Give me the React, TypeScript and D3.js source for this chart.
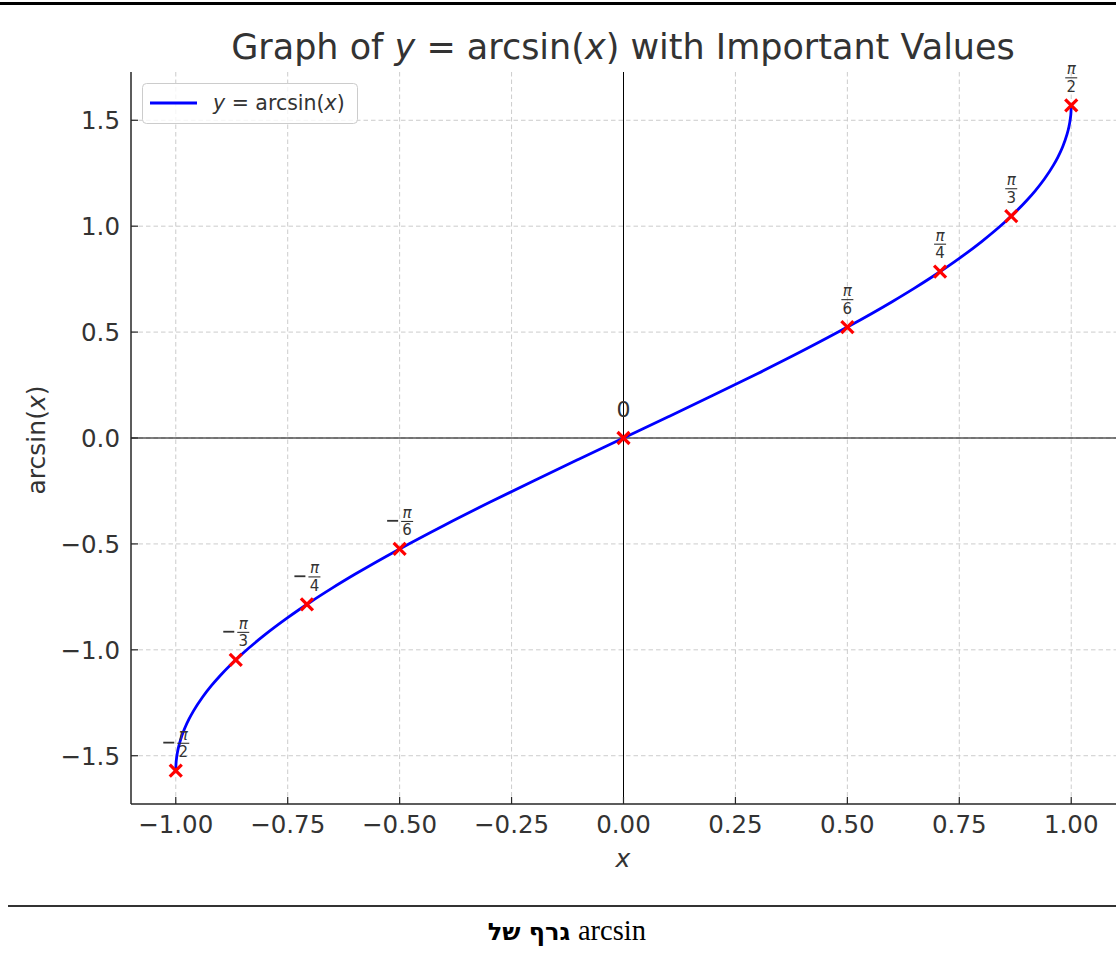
import React from "react";
import * as d3 from "d3";

// Curve samples of y = arcsin(x)
const CURVE_X = [-1, -0.9995, -0.998, -0.995, -0.99, -0.98, -0.97, -0.96, -0.94, -0.92, -0.9, -0.85, -0.8, -0.75, -0.7, -0.65, -0.6, -0.5, -0.4, -0.3, -0.2, -0.1, 0, 0.1, 0.2, 0.3, 0.4, 0.5, 0.6, 0.65, 0.7, 0.75, 0.8, 0.85, 0.9, 0.92, 0.94, 0.96, 0.97, 0.98, 0.99, 0.995, 0.998, 0.9995, 1];
const CURVE_Y = [-1.5708, -1.5392, -1.5075, -1.4708, -1.4293, -1.3705, -1.3252, -1.287, -1.2226, -1.1681, -1.1198, -1.016, -0.9273, -0.8481, -0.7754, -0.7076, -0.6435, -0.5236, -0.4115, -0.3047, -0.2014, -0.1002, 0, 0.1002, 0.2014, 0.3047, 0.4115, 0.5236, 0.6435, 0.7076, 0.7754, 0.8481, 0.9273, 1.016, 1.1198, 1.1681, 1.2226, 1.287, 1.3252, 1.3705, 1.4293, 1.4708, 1.5075, 1.5392, 1.5708];

// Important values
const KEY_X = [-1, -0.866, -0.7071, -0.5, 0, 0.5, 0.7071, 0.866, 1];
const KEY_Y = [-1.5708, -1.0472, -0.7854, -0.5236, 0, 0.5236, 0.7854, 1.0472, 1.5708];
const KEY_SIGN = ["-", "-", "-", "-", "", "", "", "", ""];
const KEY_DEN = ["2", "3", "4", "6", "", "6", "4", "3", "2"];

const X_TICKS = [-1, -0.75, -0.5, -0.25, 0, 0.25, 0.5, 0.75, 1];
const Y_TICKS = [-1.5, -1, -0.5, 0, 0.5, 1, 1.5];

const W = 1116;
const H = 955;
const LEFT = 131;
const RIGHT = 1116;
const TOP = 72;
const BOTTOM = 804;
const FONT = "'DejaVu Sans', sans-serif";
const TXT = "#333333";

export default function App() {
  const x = d3.scaleLinear().domain([-1.1, 1.1]).range([LEFT, RIGHT]);
  const ylim = 1.1 * 1.5708;
  const y = d3.scaleLinear().domain([-ylim, ylim]).range([BOTTOM, TOP]);

  const line = d3
    .line<number>()
    .x((_, i) => x(CURVE_X[i]))
    .y((d) => y(d))
    .curve(d3.curveMonotoneX);

  const fmtMinus = (s: string) => s.replace("-", "\u2212");

  return (
    <div style={{ position: "absolute", left: 0, top: 0 }}>
      <svg width={W} height={H} style={{ display: "block" }}>
        <rect x={0} y={0} width={W} height={H} fill="#fff" />
        {/* top rule */}
        <rect x={0} y={2} width={W} height={3} fill="#000" />

        {/* title */}
        <text x={623} y={59} textAnchor="middle" fontFamily={FONT} fontSize={35} fill={TXT}>
          Graph of <tspan fontStyle="italic">y</tspan> = arcsin(<tspan fontStyle="italic">x</tspan>) with Important Values
        </text>

        {/* grid */}
        <g stroke="#cccccc" strokeWidth={1} strokeDasharray="4.5,3">
          {X_TICKS.map((t) => (
            <line key={"gx" + t} x1={x(t)} x2={x(t)} y1={TOP} y2={BOTTOM} />
          ))}
          {Y_TICKS.map((t) => (
            <line key={"gy" + t} x1={LEFT} x2={RIGHT} y1={y(t)} y2={y(t)} />
          ))}
        </g>

        {/* axis lines */}
        <line x1={LEFT} x2={RIGHT} y1={y(0)} y2={y(0)} stroke="#000" strokeWidth={1} />
        <line x1={x(0)} x2={x(0)} y1={TOP} y2={BOTTOM} stroke="#000" strokeWidth={1} />

        {/* curve */}
        <path d={line(CURVE_Y) || ""} fill="none" stroke="#0000ff" strokeWidth={2.8} />

        {/* markers */}
        <g stroke="#ff0000" strokeWidth={3.2}>
          {KEY_X.map((kx, i) => {
            const cx = x(kx);
            const cy = y(KEY_Y[i]);
            const s = 6;
            return (
              <g key={"m" + i}>
                <line x1={cx - s} y1={cy - s} x2={cx + s} y2={cy + s} />
                <line x1={cx - s} y1={cy + s} x2={cx + s} y2={cy - s} />
              </g>
            );
          })}
        </g>

        {/* labels */}
        {KEY_X.map((kx, i) => {
          const cx = x(kx);
          const cy = y(KEY_Y[i]);
          if (KEY_DEN[i] === "") {
            return (
              <text key={"l" + i} x={cx} y={cy - 21} textAnchor="middle" fontFamily={FONT} fontSize={22} fill={TXT}>
                0
              </text>
            );
          }
          const neg = KEY_SIGN[i] === "-";
          const fx = neg ? cx + 7.5 : cx;
          return (
            <g key={"l" + i} fill={TXT} fontFamily={FONT} fontSize={15}>
              {neg && (
                <rect x={cx - 12.5} y={cy - 29} width={11} height={1.8} fill={TXT} />
              )}
              <text x={fx} y={cy - 31} textAnchor="middle" fontStyle="italic">
                π
              </text>
              <rect x={fx - 6} y={cy - 28} width={12} height={1.1} fill={TXT} />
              <text x={fx} y={cy - 13.5} textAnchor="middle">
                {KEY_DEN[i]}
              </text>
            </g>
          );
        })}

        {/* spines */}
        <line x1={LEFT} x2={LEFT} y1={TOP} y2={BOTTOM} stroke="#262626" strokeWidth={1.5} />
        <line x1={LEFT} x2={RIGHT} y1={BOTTOM} y2={BOTTOM} stroke="#262626" strokeWidth={1.5} />

        {/* ticks */}
        <g stroke="#262626" strokeWidth={1.2}>
          {X_TICKS.map((t) => (
            <line key={"tx" + t} x1={x(t)} x2={x(t)} y1={BOTTOM} y2={BOTTOM - 7} />
          ))}
          {Y_TICKS.map((t) => (
            <line key={"ty" + t} x1={LEFT} x2={LEFT + 7} y1={y(t)} y2={y(t)} />
          ))}
        </g>
        <g fontFamily={FONT} fontSize={24.5} fill={TXT}>
          {X_TICKS.map((t) => (
            <text key={"lx" + t} x={x(t)} y={833} textAnchor="middle">
              {fmtMinus(d3.format(".2f")(t))}
            </text>
          ))}
          {Y_TICKS.map((t) => (
            <text key={"ly" + t} x={120} y={y(t) + 8.8} textAnchor="end">
              {fmtMinus(d3.format(".1f")(t))}
            </text>
          ))}
        </g>

        {/* axis labels */}
        <text x={623} y={867} textAnchor="middle" fontFamily={FONT} fontSize={25} fontStyle="italic" fill={TXT}>
          x
        </text>
        <text transform={`translate(45,440) rotate(-90)`} textAnchor="middle" fontFamily={FONT} fontSize={25} fill={TXT}>
          arcsin(<tspan fontStyle="italic">x</tspan>)
        </text>

        {/* legend */}
        <rect x={142.5} y={83.5} width={215} height={40} rx={4} fill="#fff" fillOpacity={0.8} stroke="#cccccc" strokeWidth={1} />
        <line x1={150} x2={197} y1={103} y2={103} stroke="#0000ff" strokeWidth={2.8} />
        <text x={213} y={110} fontFamily={FONT} fontSize={20.5} fill={TXT}>
          <tspan fontStyle="italic">y</tspan> = arcsin(<tspan fontStyle="italic">x</tspan>)
        </text>

        {/* bottom rule and caption */}
        <rect x={8} y={905} width={W - 8} height={2} fill="#333" />
        <text x={529} y={940} textAnchor="middle" fontFamily="'DejaVu Sans', sans-serif" fontSize={24} fontWeight="bold" fill="#000">
          גרף של
        </text>
        <text x={612} y={940} textAnchor="middle" fontFamily="'Liberation Serif', serif" fontSize={28.5} fill="#000">
          arcsin
        </text>
      </svg>
    </div>
  );
}
